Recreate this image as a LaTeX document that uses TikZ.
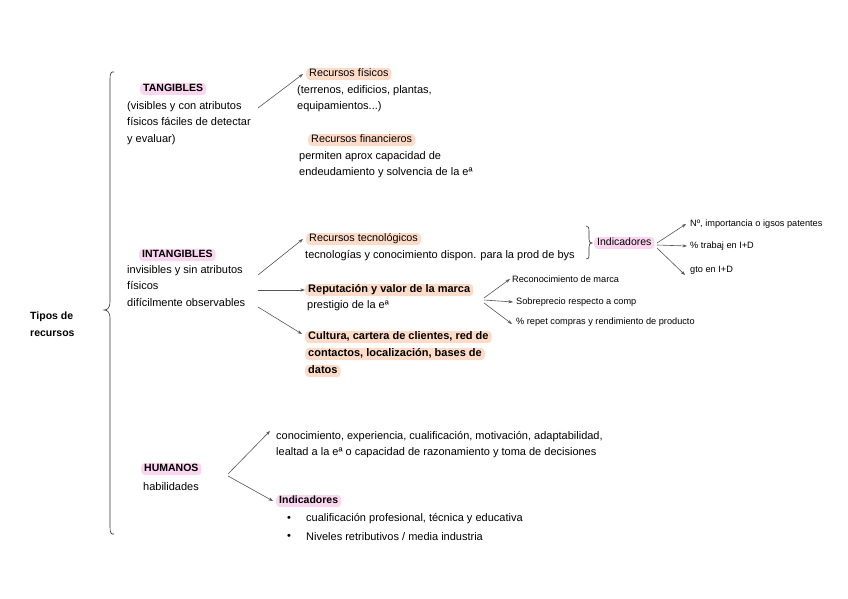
\documentclass[tikz,border=0pt]{standalone}
\usepackage{fontspec}
\setmainfont{Liberation Sans}
\usetikzlibrary{arrows.meta}
\definecolor{peach}{HTML}{FCDCC8}
\definecolor{pinkh}{HTML}{FAD6F0}
\definecolor{arrc}{HTML}{555555}
\tikzset{
  txt/.style={font=\fontsize{11}{16.5}\selectfont, inner sep=0pt, anchor=north west, align=left},
  ptxt/.style={font=\fontsize{11}{16.5}\selectfont, inner sep=0pt, anchor=west},
  small/.style={font=\fontsize{9.2}{10}\selectfont, inner sep=0pt, anchor=west},
  hl/.style={rounded corners=4pt, inner xsep=3pt, inner ysep=1.2pt, anchor=west, text height=7.6pt, text depth=2.4pt},
  hlp/.style={hl, fill=peach},
  hlk/.style={hl, fill=pinkh},
  bf/.style={font=\fontsize{10.5}{12}\selectfont\bfseries},
  bfl/.style={font=\fontsize{11}{12}\selectfont\bfseries},
  rg/.style={font=\fontsize{10.8}{12}\selectfont},
  arr/.style={-{Stealth[length=4.5pt,width=3.2pt]}, draw=arrc, line width=0.6pt},
  brc/.style={draw=black!80, line width=0.6pt}
}
\begin{document}
\begin{tikzpicture}[x=1pt,y=-1pt]
\useasboundingbox (0,0) rectangle (848,599);

% big brace
\draw[brc] (114,72) .. controls (111,71) and (110,74) .. (110,79) -- (110,302)
  .. controls (110,307) and (108,310) .. (104,310)
  .. controls (108,310) and (110,313) .. (110,318) -- (110,527)
  .. controls (110,532) and (111,535) .. (114,534);

\node[txt, font=\fontsize{10.5}{17}\selectfont\bfseries] (tipos) at (30,312) {Tipos de\\recursos};

% TANGIBLES
\node[hlk, bf] (tang) at (140,89) {TANGIBLES};
\node[txt] (tangd) at (127,101) {(visibles y con atributos\\físicos fáciles de detectar\\y evaluar)};
\node[hlp, rg] (fis) at (306,74) {Recursos físicos};
\node[txt] (fisd) at (297,85) {(terrenos, edificios, plantas,\\equipamientos...)};
\node[hlp, rg] (fin) at (308,140) {Recursos financieros};
\node[txt] (find) at (299,151) {permiten aprox capacidad de\\endeudamiento y solvencia de la eª};
\coordinate (t1) at (258,108);
\draw[arr] (t1) -- ([xshift=-3pt]fis.west);

% INTANGIBLES
\node[hlk, bf] (intang) at (139,255) {INTANGIBLES};
\node[txt] (intd) at (127,265) {invisibles y sin atributos\\físicos\\difícilmente observables};
\coordinate (i1) at (258,275);
\coordinate (i2) at (258,290);
\coordinate (i3) at (258,307);

\node[hlp, rg] (tec) at (306,239) {Recursos tecnológicos};
\node[ptxt] (tecd) at (305,256) {tecnologías y conocimiento dispon. para la prod de bys};
\node[hlp, bfl] (rep) at (305,290) {Reputación y valor de la marca};
\node[ptxt] (repd) at (307,306) {prestigio de la eª};
\node[hlp, bfl] (cul1) at (305,337) {Cultura, cartera de clientes, red de};
\node[hlp, bfl] (cul2) at (305,354) {contactos, localización, bases de};
\node[hlp, bfl] (cul3) at (305,371) {datos};
\draw[arr] (i1) -- ([xshift=-3pt]tec.west);
\draw[arr] (i2) -- (rep.west);
\draw[arr] (i3) -- ([xshift=-3pt,yshift=3pt]cul1.west);

% indicadores tecnologicos
\draw[brc] (586,226) .. controls (589,226) and (589,228) .. (589,231) -- (589,239)
  .. controls (589,242) and (590,243) .. (592,243)
  .. controls (590,243) and (589,244) .. (589,247) -- (589,255)
  .. controls (589,258) and (589,259) .. (586,259);
\node[hlk, font=\fontsize{10.5}{12}\selectfont] (ind1) at (594,243) {Indicadores};
\node[small] (pat) at (690,224) {Nº, importancia o igsos patentes};
\node[small] (tra) at (690,246) {\% trabaj en I+D};
\node[small] (gto) at (690,270) {gto en I+D};
\coordinate (k1) at (657,243);
\coordinate (k2) at (657,245);
\coordinate (k3) at (657,248);
\draw[arr] (k1) -- ([xshift=-4pt]pat.west);
\draw[arr] (k2) -- ([xshift=-3pt]tra.west);
\draw[arr] (k3) -- ([xshift=-5pt,yshift=-5pt]gto.west);

% reputacion
\node[small] (rec) at (512,279) {Reconocimiento de marca};
\node[small] (sob) at (516,302) {Sobreprecio respecto a comp};
\node[small] (rpt) at (516,322) {\% repet compras y rendimiento de producto};
\coordinate (r1) at (484,298);
\coordinate (r2) at (484,300);
\coordinate (r3) at (484,303);
\draw[arr] (r1) -- ([xshift=-2pt]rec.west);
\draw[arr] (r2) -- ([xshift=-3pt]sob.west);
\draw[arr] (r3) -- ([xshift=-4pt,yshift=-2pt]rpt.west);

% HUMANOS
\node[hlk, bf] (hum) at (141,469) {HUMANOS};
\node[ptxt] (hab) at (143,487) {habilidades};
\node[txt] (con) at (276,431) {conocimiento, experiencia, cualificación, motivación, adaptabilidad,\\lealtad a la eª o capacidad de razonamiento y toma de decisiones};
\node[hlk, bf] (ind2) at (276,501) {Indicadores};
\node[ptxt] (bu1) at (287,519) {•};
\node[ptxt] (l1) at (306,519) {cualificación profesional, técnica y educativa};
\node[ptxt] (bu2) at (287,537) {•};
\node[ptxt] (l2) at (306,537) {Niveles retributivos / media industria};
\coordinate (h1) at (228,474);
\coordinate (h2) at (228,476);
\draw[arr] (h1) -- ([xshift=-6pt,yshift=0pt]con.north west);
\draw[arr] (h2) -- ([xshift=-3pt]ind2.west);
\end{tikzpicture}
\end{document}
